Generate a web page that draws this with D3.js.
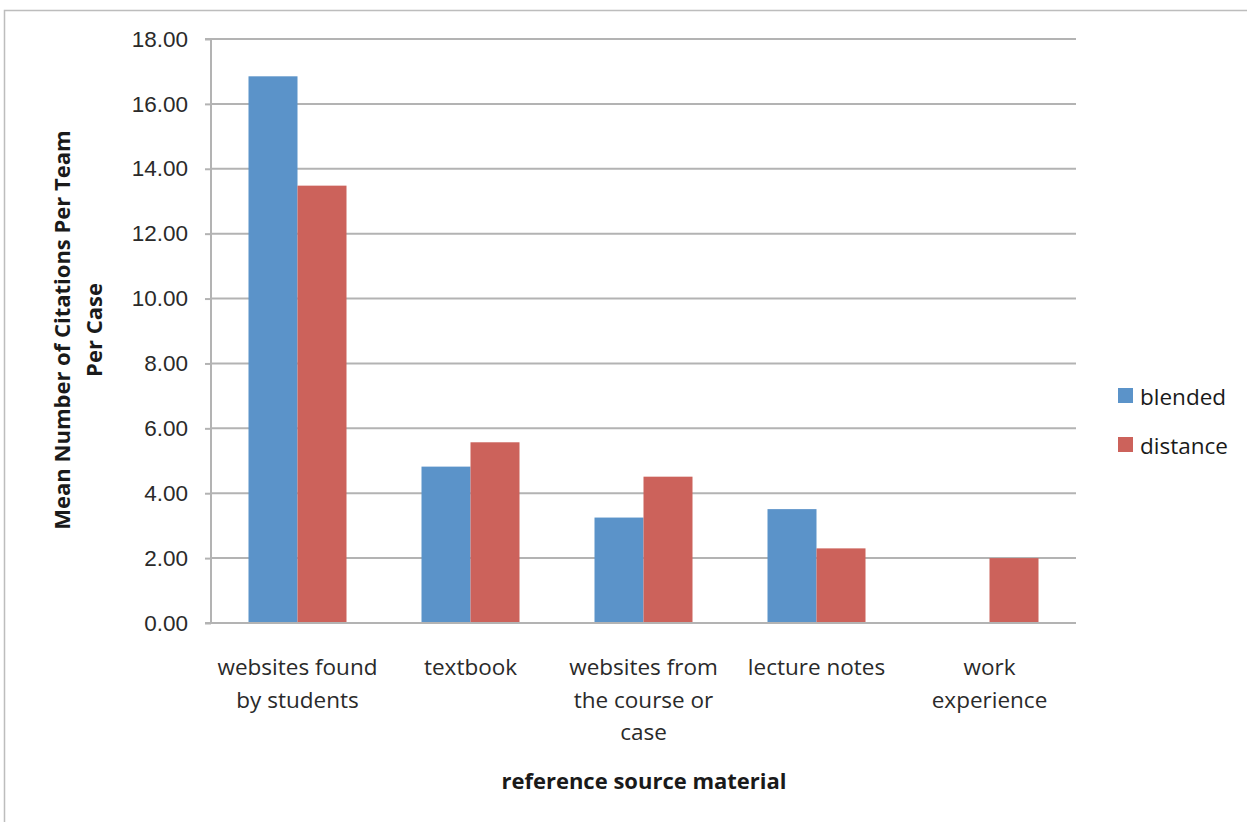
<!DOCTYPE html>
<html>
<head>
<meta charset="utf-8">
<script src="https://cdn.jsdelivr.net/npm/d3@7"></script>
<style>
  html, body { margin: 0; padding: 0; background: #fff; }
  svg { display: block; font-family: "Open Sans", "Noto Sans", sans-serif; }
</style>
</head>
<body>
<svg id="chart" width="1247" height="822"></svg>
<script>
// Mean citations per team per case, by reference source and course format
const categories = [
  ["websites found", "by students"],
  ["textbook"],
  ["websites from", "the course or", "case"],
  ["lecture notes"],
  ["work", "experience"]
];
const seriesNames = ["blended", "distance"];
const blended = [16.85, 4.82, 3.25, 3.51, 0];
const distance = [13.48, 5.57, 4.51, 2.30, 2.00];
const yTicks = [0, 2, 4, 6, 8, 10, 12, 14, 16, 18];
const colors = ["#5b93c9", "#cc625b"];

const svg = d3.select("#chart");
const margin = { left: 211, right: 171, top: 39, bottom: 199 };
const W = 1247, H = 822;
const innerW = W - margin.left - margin.right;
const innerH = H - margin.top - margin.bottom;

// outer frame
svg.append("rect")
  .attr("x", 4.5).attr("y", 10.5)
  .attr("width", W + 10).attr("height", H + 10)
  .attr("fill", "none").attr("stroke", "#bdbdbd").attr("stroke-width", 1.5);

const g = svg.append("g").attr("transform", `translate(${margin.left},${margin.top})`);

const x = d3.scaleBand().domain(d3.range(categories.length)).range([0, innerW]).padding(0);
const inner = d3.scaleBand().domain(seriesNames)
  .range([37.5, x.bandwidth() - 37.5]).padding(0);
const y = d3.scaleLinear().domain([0, 18]).range([innerH, 0]);

// gridlines
g.append("g")
  .selectAll("line").data(yTicks.filter(d => d > 0)).join("line")
  .attr("x1", 0).attr("x2", innerW)
  .attr("y1", d => y(d)).attr("y2", d => y(d))
  .attr("stroke", "#b3b3b3").attr("stroke-width", 2);

// y axis
const yAxis = g.append("g")
  .call(d3.axisLeft(y).tickValues(yTicks).tickFormat(d3.format(".2f")).tickSize(6).tickPadding(17));
yAxis.select(".domain").attr("stroke", "#b3b3b3").attr("stroke-width", 2).attr("d", `M-6,${innerH}H0V0H-6`);
yAxis.selectAll(".tick line").attr("stroke", "#b3b3b3").attr("stroke-width", 2);
yAxis.selectAll(".tick text").attr("fill", "#2a2a2a").style("font-size", "22.5px");

// bars
const data = categories.map((c, i) => ({ i, values: [blended[i], distance[i]] }));
const groups = g.append("g").selectAll("g").data(data).join("g")
  .attr("transform", d => `translate(${x(d.i)},0)`);
groups.selectAll("rect")
  .data(d => d.values.map((v, k) => ({ key: seriesNames[k], v, k })).filter(e => e.v > 0))
  .join("rect")
  .attr("x", d => inner(d.key))
  .attr("width", inner.bandwidth())
  .attr("y", d => y(d.v))
  .attr("height", d => y(0) - y(d.v))
  .attr("fill", d => colors[d.k]);

// x axis baseline
g.append("line")
  .attr("x1", -6).attr("x2", innerW)
  .attr("y1", innerH).attr("y2", innerH)
  .attr("stroke", "#b3b3b3").attr("stroke-width", 2);

// category labels
const labels = g.append("g").selectAll("text").data(categories).join("text")
  .attr("text-anchor", "middle")
  .attr("fill", "#2a2a2a")
  .style("font-size", "22.5px")
  .attr("transform", (d, i) => `translate(${x(i) + x.bandwidth() / 2},${innerH + 52})`);
labels.selectAll("tspan").data(d => d).join("tspan")
  .attr("x", 0).attr("dy", (d, j) => j === 0 ? 0 : 32.5)
  .text(d => d);

// x axis title
svg.append("text")
  .attr("x", 644).attr("y", 789)
  .attr("text-anchor", "middle")
  .attr("font-weight", "bold").attr("fill", "#1a1a1a")
  .style("font-size", "22px")
  .text("reference source material");

// y axis title
const yt = svg.append("text")
  .attr("transform", "translate(70,330) rotate(-90)")
  .attr("text-anchor", "middle")
  .attr("font-weight", "bold").attr("fill", "#1a1a1a")
  .style("font-size", "22px");
yt.append("tspan").attr("x", 0).attr("dy", 0).text("Mean Number of Citations Per Team");
yt.append("tspan").attr("x", 0).attr("dy", 32).text("Per Case");

// legend
const legend = svg.append("g").attr("transform", "translate(1118,388)");
const li = legend.selectAll("g").data(seriesNames).join("g")
  .attr("transform", (d, i) => `translate(0,${i * 49})`);
li.append("rect").attr("width", 15).attr("height", 15).attr("fill", (d, i) => colors[i]);
li.append("text").attr("x", 22).attr("y", 17)
  .attr("fill", "#1a1a1a").style("font-size", "22.5px").text(d => d);
</script>
</body>
</html>
